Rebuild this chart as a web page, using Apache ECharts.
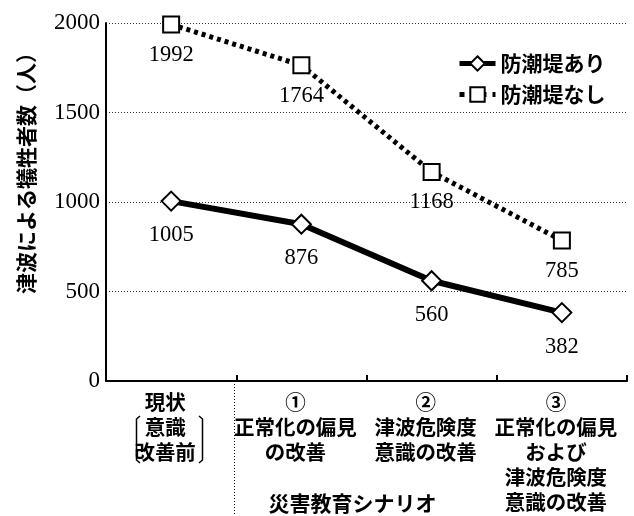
<!DOCTYPE html>
<html>
<head>
<meta charset="utf-8">
<script src="https://cdn.jsdelivr.net/npm/echarts@6/dist/echarts.min.js"></script>
<style>
  html, body { margin: 0; padding: 0; background: #fff; }
  #chart { width: 634px; height: 516px; }
</style>
</head>
<body>
<div id="chart"></div>
<script>
// Scenario categories (x axis)
const categories = [
  '現状\n意識\n改善前',
  '①\n正常化の偏見\nの改善',
  '②\n津波危険度\n意識の改善',
  '③\n正常化の偏見\nおよび\n津波危険度\n意識の改善'
];
// Casualties with and without seawall
const withSeawall = [1005, 876, 560, 382];
const withoutSeawall = [1992, 1764, 1168, 785];
const seriesNames = ['防潮堤あり', '防潮堤なし'];
const yTicks = { min: 0, max: 2000, interval: 500 };

const serif = '"Liberation Serif", "DejaVu Serif", serif';
const gothic = '"Noto Sans CJK JP", "Noto Sans", sans-serif';

const chart = echarts.init(document.getElementById('chart'), null, { renderer: 'canvas' });

chart.setOption({
  animation: false,
  backgroundColor: '#ffffff',
  grid: { left: 106, right: 7, top: 23, bottom: 135, containLabel: false, outerBoundsMode: 'none' },
  legend: {
    orient: 'vertical',
    left: 452,
    top: 48,
    itemWidth: 36,
    itemHeight: 18,
    itemGap: 10,
    data: [
      { name: seriesNames[0], lineStyle: { width: 5, color: '#000', type: 'solid' } },
      { name: seriesNames[1], lineStyle: { width: 5, color: '#000', type: [5, 6] } }
    ],
    textStyle: { fontFamily: gothic, fontSize: 21, fontWeight: 'bold', color: '#000' }
  },
  xAxis: {
    type: 'category',
    data: categories,
    boundaryGap: true,
    name: '災害教育シナリオ',
    nameLocation: 'middle',
    nameGap: 112,
    nameMoveOverlap: false,
    nameTextStyle: { fontFamily: gothic, fontSize: 21, fontWeight: 'bold', color: '#000', padding: [0, 28, 0, 0] },
    axisLine: { lineStyle: { color: '#000', width: 2 } },
    axisTick: { show: true, inside: true, length: 6, lineStyle: { color: '#000', width: 2 } },
    axisLabel: {
      interval: 0,
      margin: 9,
      fontFamily: gothic,
      fontSize: 20.5,
      fontWeight: 'bold',
      lineHeight: 25,
      color: '#000',
      padding: [0, 12, 0, 0]
    },
    splitLine: { show: false }
  },
  yAxis: {
    type: 'value',
    min: yTicks.min,
    max: yTicks.max,
    interval: yTicks.interval,
    name: '津波による犠牲者数（人）',
    nameLocation: 'middle',
    nameRotate: 90,
    nameGap: 69,
    nameTextStyle: { fontFamily: gothic, fontSize: 21, fontWeight: 'bold', color: '#000', padding: [0, 0, 0, 68] },
    axisLine: { show: true, lineStyle: { color: '#000', width: 2 } },
    axisTick: { show: false },
    axisLabel: { fontFamily: serif, fontSize: 23, color: '#000', margin: 6, formatter: (v) => String(v) },
    splitLine: { show: true, lineStyle: { color: '#333', width: 1, type: [1, 2] } }
  },
  series: [
    {
      name: seriesNames[0],
      type: 'line',
      data: withSeawall,
      symbol: 'diamond',
      symbolSize: [19, 19],
      z: 3,
      lineStyle: { color: '#000', width: 6 },
      itemStyle: { color: '#fff', borderColor: '#000', borderWidth: 2 },
      label: {
        show: true,
        position: 'bottom',
        distance: 12,
        fontFamily: serif,
        fontSize: 22.5,
        color: '#000'
      }
    },
    {
      name: seriesNames[1],
      type: 'line',
      data: withoutSeawall,
      symbol: 'rect',
      symbolSize: [16, 16],
      z: 3,
      lineStyle: { color: '#000', width: 5, type: [4, 4], cap: 'butt' },
      itemStyle: { color: '#fff', borderColor: '#000', borderWidth: 2 },
      label: {
        show: true,
        position: 'bottom',
        distance: 10,
        fontFamily: serif,
        fontSize: 22.5,
        color: '#000'
      }
    }
  ],
  graphic: [
    // dotted separator between the baseline and the scenarios
    {
      type: 'line',
      shape: { x1: 234.5, y1: 381, x2: 234.5, y2: 516 },
      style: { stroke: '#000', lineWidth: 1, lineDash: [1, 2] }
    },
    // brackets around the baseline note
    {
      type: 'polyline',
      shape: { points: [[140, 416], [136.5, 419], [136.5, 460], [140, 463]] },
      style: { stroke: '#000', lineWidth: 1.5, fill: null }
    },
    {
      type: 'polyline',
      shape: { points: [[199, 416], [202.5, 419], [202.5, 460], [199, 463]] },
      style: { stroke: '#000', lineWidth: 1.5, fill: null }
    }
  ]
});
</script>
</body>
</html>
